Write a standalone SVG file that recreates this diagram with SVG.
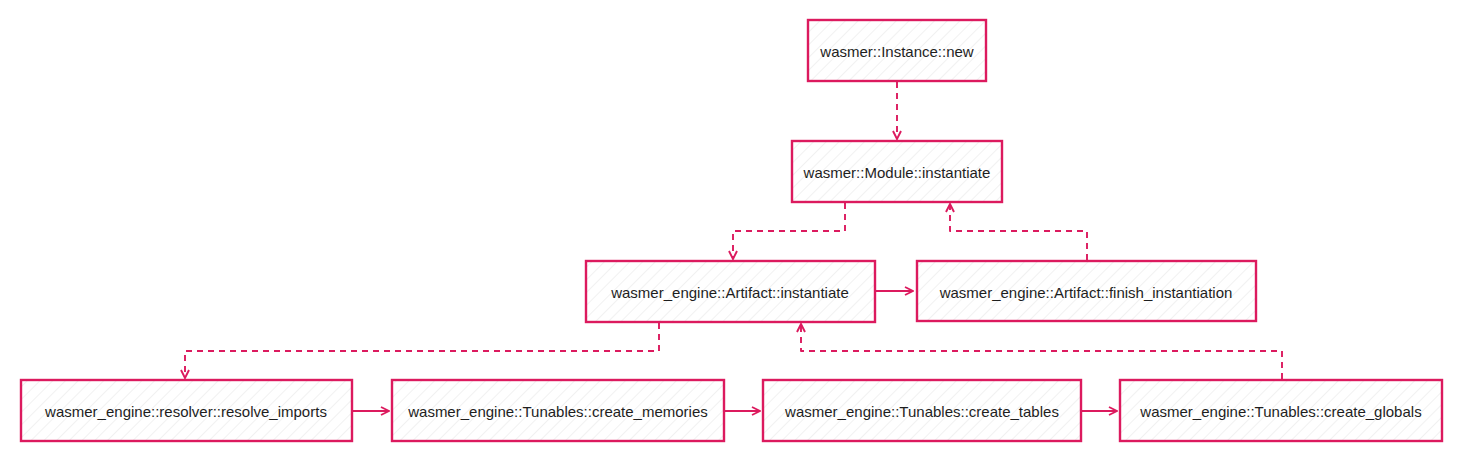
<svg xmlns="http://www.w3.org/2000/svg" width="1462" height="462" viewBox="0 0 1462 462">
<style>
.box{fill:url(#hatch);stroke:#dc1a5e;stroke-width:2.4}
.lbl{font-family:"Liberation Sans",Arial,sans-serif;font-size:15px;fill:#1e1e1e;text-anchor:middle;dominant-baseline:central}
.c{fill:none;stroke:#dc1a5e;stroke-width:1.9;stroke-linejoin:round}
.d{stroke-dasharray:6 5}
</style>
<defs>
<pattern id="hatch" patternUnits="userSpaceOnUse" width="9" height="9" patternTransform="rotate(45)">
<rect width="9" height="9" fill="#ffffff"/>
<line x1="0" y1="0" x2="0" y2="9" stroke="#e4e4e4" stroke-width="1"/>
</pattern>
<marker id="ah" viewBox="0 0 10 10" refX="9" refY="5" markerWidth="10" markerHeight="10" markerUnits="userSpaceOnUse" orient="auto">
<path d="M1,1 L9,5 L1,9" fill="none" stroke="#dc1a5e" stroke-width="1.9"/>
</marker>
</defs>
<rect width="1462" height="462" fill="#ffffff"/>
<g id="connectors">
<path class="c d" d="M897,82 V139" marker-end="url(#ah)"/>
<path class="c d" d="M845,203 V231 H733 V259" marker-end="url(#ah)"/>
<path class="c d" d="M1087,260 V231 H950 V204" marker-end="url(#ah)"/>
<path class="c" d="M876,291 H913" marker-end="url(#ah)"/>
<path class="c d" d="M659,323 V351 H185 V378" marker-end="url(#ah)"/>
<path class="c d" d="M1282,379 V351 H801 V324" marker-end="url(#ah)"/>
<path class="c" d="M353,411 H389" marker-end="url(#ah)"/>
<path class="c" d="M725,411 H760" marker-end="url(#ah)"/>
<path class="c" d="M1082,411 H1117" marker-end="url(#ah)"/>
</g>
<g id="n1"><rect class="box" x="808" y="20" width="178" height="61"/><text class="lbl" x="897" y="51">wasmer::Instance::new</text></g>
<g id="n2"><rect class="box" x="792" y="141" width="210" height="61"/><text class="lbl" x="897" y="172">wasmer::Module::instantiate</text></g>
<g id="n3"><rect class="box" x="586" y="261" width="289" height="61"/><text class="lbl" x="730" y="292">wasmer_engine::Artifact::instantiate</text></g>
<g id="n4"><rect class="box" x="917" y="261" width="339" height="60"/><text class="lbl" x="1086" y="292">wasmer_engine::Artifact::finish_instantiation</text></g>
<g id="n5"><rect class="box" x="21" y="380" width="331" height="61"/><text class="lbl" x="186" y="411">wasmer_engine::resolver::resolve_imports</text></g>
<g id="n6"><rect class="box" x="392" y="380" width="332" height="61"/><text class="lbl" x="558" y="411">wasmer_engine::Tunables::create_memories</text></g>
<g id="n7"><rect class="box" x="763" y="380" width="318" height="61"/><text class="lbl" x="922" y="411">wasmer_engine::Tunables::create_tables</text></g>
<g id="n8"><rect class="box" x="1120" y="380" width="322" height="61"/><text class="lbl" x="1281" y="411">wasmer_engine::Tunables::create_globals</text></g>
</svg>
